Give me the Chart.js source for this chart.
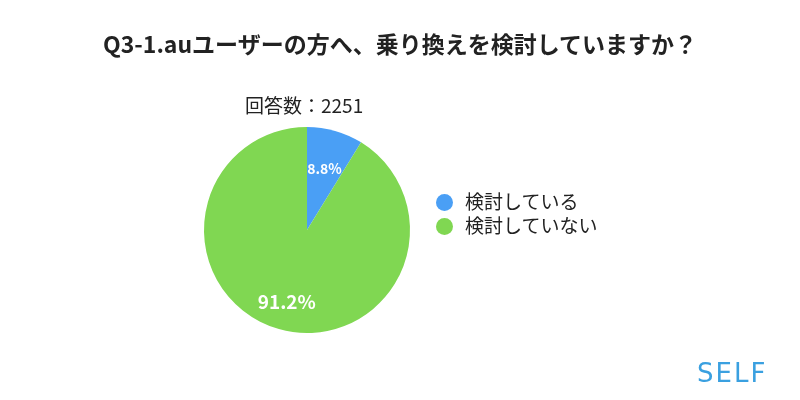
<!DOCTYPE html>
<html><head><meta charset="utf-8">
<script src="https://cdn.jsdelivr.net/npm/chart.js@4"></script>
<style>
body{margin:0;background:#fff;font-family:"Noto Sans CJK JP",sans-serif;}
#wrap{position:relative;width:800px;height:400px;}
.t{position:absolute;white-space:nowrap;color:#222;}
.dot{display:inline-block;width:17px;height:17px;border-radius:50%;vertical-align:-2px;margin-right:12px;}
</style></head><body>
<div id="wrap">
<canvas id="c" width="800" height="400"></canvas>
<div class="t" style="left:0;width:800px;text-align:center;top:26px;font-size:23px;font-weight:bold;">Q3-1.auユーザーの方へ、乗り換えを検討していますか？</div>
<div class="t" style="left:245px;top:91px;font-size:19px;">回答数：2251</div>
<div class="t" id="lg" style="left:436px;top:189px;font-size:19px;line-height:24px;"></div>
<div class="t" style="left:697px;top:358px;font-size:26px;color:#3aa0e0;letter-spacing:2px;font-family:'DejaVu Sans';">SELF</div>
</div>
<script>
const labels = ['検討している', '検討していない'];
const values = [8.8, 91.2];
const colors = ['#4a9ff5', '#80d752'];

document.getElementById('lg').innerHTML = labels.map((l, i) =>
  '<div><span class="dot" style="background:' + colors[i] + '"></span>' + l + '</div>').join('');

const pctLabels = {
  id: 'pctLabels',
  afterDatasetsDraw(chart) {
    const ctx = chart.ctx;
    const arcs = chart.getDatasetMeta(0).data;
    ctx.save();
    ctx.fillStyle = '#fff';
    ctx.textAlign = 'center';
    ctx.textBaseline = 'middle';
    arcs.forEach((arc, i) => {
      const mid = (arc.startAngle + arc.endAngle) / 2;
      const r = i === 0 ? arc.outerRadius * 0.62 : arc.outerRadius * 0.72;
      ctx.font = 'bold ' + (i === 0 ? 14 : 19) + 'px "Noto Sans CJK JP"';
      ctx.fillText(values[i] + '%', arc.x + Math.cos(mid) * r, arc.y + Math.sin(mid) * r);
    });
    ctx.restore();
  }
};

new Chart(document.getElementById('c'), {
  type: 'pie',
  data: { labels: labels, datasets: [{ data: values, backgroundColor: colors, borderWidth: 0 }] },
  options: {
    responsive: false,
    animation: false,
    layout: { padding: { left: 204, right: 390, top: 127, bottom: 67 } },
    plugins: { legend: { display: false }, tooltip: { enabled: false } }
  },
  plugins: [pctLabels]
});
</script>
</body></html>
